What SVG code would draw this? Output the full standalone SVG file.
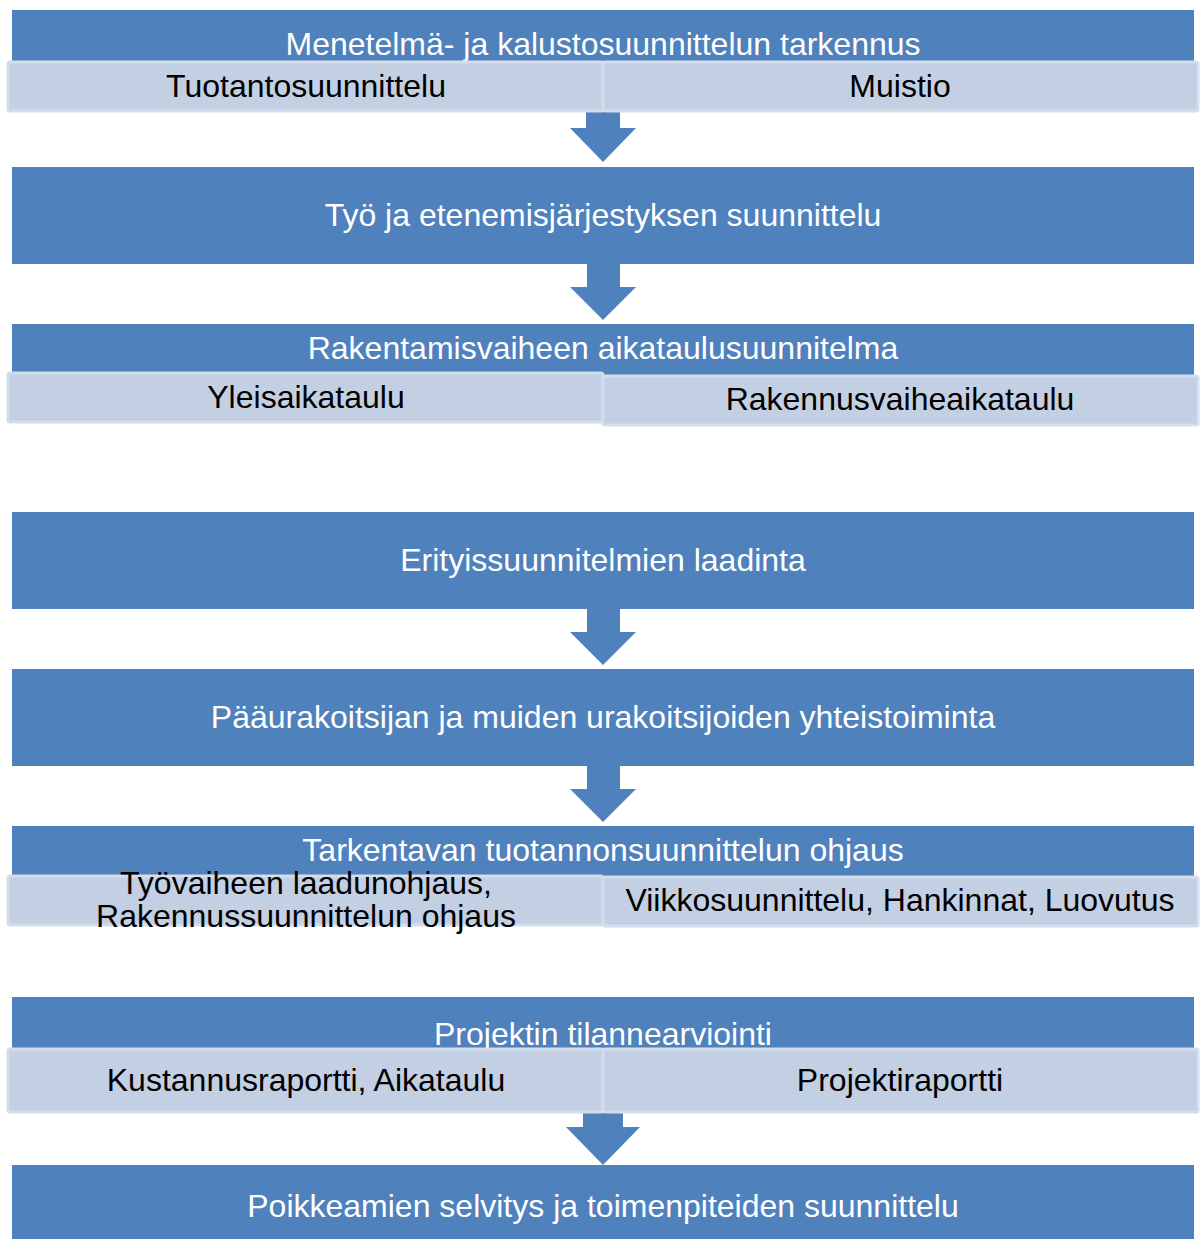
<svg xmlns="http://www.w3.org/2000/svg" width="1201" height="1239" viewBox="0 0 1201 1239">
<style>
.blue{fill:#4f81bd}
.lite{fill:#c3cfe3;stroke:#d4ddec;stroke-width:3}
.arr{fill:#4f81bd}
text{font-family:"Liberation Sans",Arial,sans-serif;font-size:32px;text-anchor:middle}
.w{fill:#ffffff}
.k{fill:#000000}
</style>
<rect width="1201" height="1239" fill="#ffffff"/>
<g id="connectors">
<polygon class="arr" points="586,112 620,112 620,128 636,128 603,162 570,128 586,128"/>
<polygon class="arr" points="587,264 620,264 620,287 636,287 603,320 570,287 587,287"/>
<polygon class="arr" points="587,609 620,609 620,632 636,632 603,665 570,632 587,632"/>
<polygon class="arr" points="587,766 620,766 620,789 636,789 603,822 570,789 587,789"/>
<polygon class="arr" points="583,1105 623,1105 623,1127 640,1127 603,1165 566,1127 583,1127"/>
</g>
<g id="node1">
<rect class="blue" x="12" y="10" width="1182" height="60"/>
<text class="w" x="603" y="55">Menetelmä- ja kalustosuunnittelun tarkennus</text>
<rect class="lite" x="8" y="62" width="595" height="49" rx="2"/>
<rect class="lite" x="603" y="62" width="595" height="49" rx="2"/>
<text class="k" x="306" y="97">Tuotantosuunnittelu</text>
<text class="k" x="900" y="97">Muistio</text>
</g>
<g id="node2">
<rect class="blue" x="12" y="167" width="1182" height="97"/>
<text class="w" x="603" y="226">Työ ja etenemisjärjestyksen suunnittelu</text>
</g>
<g id="node3">
<rect class="blue" x="12" y="324" width="1182" height="56"/>
<text class="w" x="603" y="359">Rakentamisvaiheen aikataulusuunnitelma</text>
<rect class="lite" x="8" y="373" width="595" height="49" rx="2"/>
<rect class="lite" x="603" y="376" width="595" height="49" rx="2"/>
<text class="k" x="306" y="408">Yleisaikataulu</text>
<text class="k" x="900" y="410">Rakennusvaiheaikataulu</text>
</g>
<g id="node4">
<rect class="blue" x="12" y="512" width="1182" height="97"/>
<text class="w" x="603" y="571">Erityissuunnitelmien laadinta</text>
</g>
<g id="node5">
<rect class="blue" x="12" y="669" width="1182" height="97"/>
<text class="w" x="603" y="728">Pääurakoitsijan ja muiden urakoitsijoiden yhteistoiminta</text>
</g>
<g id="node6">
<rect class="blue" x="12" y="826" width="1182" height="56"/>
<text class="w" x="603" y="861">Tarkentavan tuotannonsuunnittelun ohjaus</text>
<rect class="lite" x="8" y="876" width="595" height="49" rx="2"/>
<rect class="lite" x="603" y="877" width="595" height="49" rx="2"/>
<text class="k" x="306" y="894">Työvaiheen laadunohjaus,</text>
<text class="k" x="306" y="927">Rakennussuunnittelun ohjaus</text>
<text class="k" x="900" y="911">Viikkosuunnittelu, Hankinnat, Luovutus</text>
</g>
<g id="node7">
<rect class="blue" x="12" y="997" width="1182" height="56"/>
<text class="w" x="603" y="1045">Projektin tilannearviointi</text>
<rect class="lite" x="8" y="1049" width="595" height="63" rx="2"/>
<rect class="lite" x="603" y="1049" width="595" height="63" rx="2"/>
<text class="k" x="306" y="1091">Kustannusraportti, Aikataulu</text>
<text class="k" x="900" y="1091">Projektiraportti</text>
</g>
<g id="node8">
<rect class="blue" x="12" y="1165" width="1182" height="74"/>
<text class="w" x="603" y="1217">Poikkeamien selvitys ja toimenpiteiden suunnittelu</text>
</g>
</svg>
